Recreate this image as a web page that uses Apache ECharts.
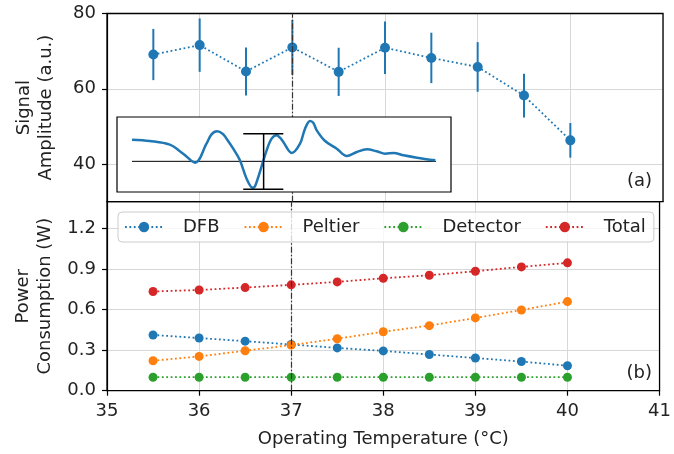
<!DOCTYPE html>
<html>
<head>
<meta charset="utf-8">
<script src="https://cdn.jsdelivr.net/npm/echarts@6/dist/echarts.min.js"></script>
<style>
  html, body { margin: 0; padding: 0; background: #fff; }
  #chart { width: 674px; height: 454px; }
</style>
</head>
<body>
<div id="chart"></div>
<script>
// temperatures (°C)
var temps = [35.5, 36, 36.5, 37, 37.5, 38, 38.5, 39, 39.5, 40];

// (a) signal amplitude and its error
var amp = [69.1, 71.6, 64.6, 71.0, 64.5, 70.9, 68.2, 65.8, 58.2, 46.3];
var ampErr = [6.8, 7.1, 6.4, 7.3, 6.4, 7.0, 6.7, 6.6, 5.8, 4.6];

// (b) power consumption (W)
var dfb = [0.413, 0.390, 0.367, 0.342, 0.317, 0.295, 0.268, 0.242, 0.216, 0.185];
var peltier = [0.222, 0.254, 0.296, 0.338, 0.385, 0.437, 0.482, 0.539, 0.598, 0.660];
var detector = [0.1, 0.1, 0.1, 0.1, 0.1, 0.1, 0.1, 0.1, 0.1, 0.1];
var total = [0.735, 0.746, 0.764, 0.784, 0.806, 0.833, 0.855, 0.885, 0.917, 0.947];

// tick labels
var xTicks = [35, 36, 37, 38, 39, 40, 41];
var ampTicks = [40, 60, 80];
var powTicks = [0, 0.3, 0.6, 0.9, 1.2];

// inset trace (arbitrary units)
var insetX = [4.5, 9.8, 15.8, 19.8, 23.4, 26.8, 28.3, 30.0, 31.6, 32.8, 34.8, 36.8, 38.8, 40.6, 41.3,
              42.3, 44.8, 46.3, 47.8, 48.8, 49.8, 52.3, 54.8, 56.3, 57.8, 58.8, 59.8, 62.3, 65.8,
              68.8, 71.8, 74.8, 77.8, 80.3, 82.8, 85.8, 89.8, 95.3];
var insetY = [6.5, 6.1, 5.0, 2.3, -0.4, 5.3, 8.1, 9.0, 8.3, 6.8, 3.8, 0.3, -5.2, -7.9, -7.5,
              -4.7, 3.3, 6.8, 7.8, 7.1, 5.8, 2.5, 5.3, 9.8, 12.1, 11.5, 9.3, 6.1, 3.8,
              1.6, 2.8, 3.6, 3.0, 2.3, 2.5, 1.8, 1.1, 0.3];
var insetBase = [[4.5, 0], [95.5, 0]];
var insetBar = [[43.9, -8.4, 8.3, 37.8, 49.8]];

var markTemp = 37;

var font = 'DejaVu Sans';
var txt = '#222';
var colors = ['#1f77b4', '#ff7f0e', '#2ca02c', '#d62728'];

function zip(xs, ys) {
    return xs.map(function (x, i) { return [x, ys[i]]; });
}

var dotted = [1.8, 2.6];
var vline = {
    silent: true,
    symbol: 'none',
    label: { show: false },
    lineStyle: { color: '#333', width: 1.2, type: [6, 2, 1.5, 2] },
    data: [{ xAxis: markTemp }]
};

function mainX(grid, showLabel) {
    return {
        type: 'value', gridIndex: grid, min: 35, max: 41, interval: 1,
        axisLine: { show: true, onZero: false, lineStyle: { color: '#000', width: 1.2 } },
        axisTick: { show: showLabel, length: 5, lineStyle: { color: '#000', width: 1.2 } },
        axisLabel: { show: showLabel, fontSize: 18, fontFamily: font, color: txt, margin: 12 },
        splitLine: { show: true, lineStyle: { color: '#d8d8d8', width: 1 } }
    };
}

function bottomLine(name, data, c) {
    return {
        name: name, type: 'line', xAxisIndex: 1, yAxisIndex: 1,
        data: zip(temps, data), symbol: 'circle', symbolSize: 9,
        itemStyle: { color: c },
        lineStyle: { color: c, width: 1.8, type: dotted },
        z: 3
    };
}

var chart = echarts.init(document.getElementById('chart'));

var dfbSeries = bottomLine('DFB', dfb, colors[0]);
dfbSeries.markLine = vline;

var option = {
    animation: false,
    grid: [
        { left: 107, width: 556, top: 13.5, height: 188.2, show: true, borderColor: '#000', borderWidth: 1.3, z: 1 },
        { left: 107, width: 556, top: 201.7, height: 189, show: true, borderColor: '#000', borderWidth: 1.3, z: 1 },
        { left: 117, width: 334, top: 117, height: 75, show: true, backgroundColor: '#fff',
          borderColor: '#000', borderWidth: 1.2, z: 10 }
    ],
    xAxis: [
        mainX(0, false),
        Object.assign(mainX(1, true), {
            name: 'Operating Temperature (°C)', nameLocation: 'middle', nameGap: 40,
            nameTextStyle: { fontSize: 18, fontFamily: font, color: txt },
            axisLabel: { show: true, fontSize: 18, fontFamily: font, color: txt, margin: 12,
                customValues: xTicks }
        }),
        { type: 'value', gridIndex: 2, min: 0, max: 100, show: false }
    ],
    yAxis: [
        {
            type: 'value', gridIndex: 0, min: 30, max: 80,
            name: 'Signal\nAmplitude (a.u.)', nameLocation: 'middle', nameGap: 50,
            nameTextStyle: { fontSize: 18, fontFamily: font, color: txt, lineHeight: 22 },
            axisLine: { show: true, lineStyle: { color: '#000', width: 1.2 } },
            axisTick: { show: true, length: 5, customValues: ampTicks, lineStyle: { color: '#000', width: 1.2 } },
            axisLabel: { fontSize: 18, fontFamily: font, color: txt, margin: 11, customValues: ampTicks },
            splitLine: { show: true, lineStyle: { color: '#d8d8d8', width: 1 } }
        },
        {
            type: 'value', gridIndex: 1, min: 0, max: 1.4,
            name: 'Power\nConsumption (W)', nameLocation: 'middle', nameGap: 50,
            nameTextStyle: { fontSize: 18, fontFamily: font, color: txt, lineHeight: 22 },
            axisLine: { show: true, lineStyle: { color: '#000', width: 1.2 } },
            axisTick: { show: true, length: 5, customValues: powTicks, lineStyle: { color: '#000', width: 1.2 } },
            axisLabel: { fontSize: 18, fontFamily: font, color: txt, margin: 11, customValues: powTicks,
                formatter: function (v) { return v.toFixed(1); } },
            splitLine: { show: true, lineStyle: { color: '#d8d8d8', width: 1 } }
        },
        { type: 'value', gridIndex: 2, min: -9.2, max: 13.3, show: false }
    ],
    legend: {
        data: ['DFB', 'Peltier', 'Detector', 'Total'],
        left: 118, top: 212,
        padding: [6, 8, 6, 6],
        itemGap: 24, itemWidth: 38, itemHeight: 13,
        backgroundColor: 'rgba(255,255,255,0.8)',
        borderColor: '#cccccc', borderWidth: 1, borderRadius: 4,
        textStyle: { fontSize: 18, fontFamily: font, color: txt, padding: [0, 0, 0, 15] },
        z: 6
    },
    graphic: [
        { type: 'text', right: 22, top: 172, style: { text: '(a)', font: '18px "DejaVu Sans"', fill: txt } },
        { type: 'text', right: 22, top: 364, style: { text: '(b)', font: '18px "DejaVu Sans"', fill: txt } }
    ],
    series: [
        {
            name: 'Signal', type: 'line', xAxisIndex: 0, yAxisIndex: 0,
            data: zip(temps, amp), symbol: 'circle', symbolSize: 10,
            itemStyle: { color: colors[0] },
            lineStyle: { color: colors[0], width: 1.8, type: dotted },
            markLine: vline, z: 3
        },
        {
            type: 'custom', xAxisIndex: 0, yAxisIndex: 0,
            data: temps.map(function (t, i) { return [t, amp[i] - ampErr[i], amp[i] + ampErr[i]]; }),
            encode: { x: 0, y: [1, 2] },
            itemStyle: { color: colors[0] },
            renderItem: function (params, api) {
                var a = api.coord([api.value(0), api.value(1)]);
                var b = api.coord([api.value(0), api.value(2)]);
                return { type: 'line', shape: { x1: a[0], y1: a[1], x2: b[0], y2: b[1] },
                    style: { stroke: colors[0], lineWidth: 2 } };
            },
            z: 2
        },
        dfbSeries,
        bottomLine('Peltier', peltier, colors[1]),
        bottomLine('Detector', detector, colors[2]),
        bottomLine('Total', total, colors[3]),
        {
            type: 'line', xAxisIndex: 2, yAxisIndex: 2, data: zip(insetX, insetY),
            showSymbol: false, smooth: 0.35,
            lineStyle: { color: colors[0], width: 2.5 }, z: 12
        },
        {
            type: 'line', xAxisIndex: 2, yAxisIndex: 2, data: insetBase,
            showSymbol: false, lineStyle: { color: '#000', width: 1 }, z: 11
        },
        {
            type: 'custom', xAxisIndex: 2, yAxisIndex: 2, data: insetBar,
            encode: { x: 0, y: [1, 2] },
            renderItem: function (params, api) {
                var lo = api.coord([api.value(0), api.value(1)]);
                var hi = api.coord([api.value(0), api.value(2)]);
                var l1 = api.coord([api.value(3), api.value(1)]);
                var r1 = api.coord([api.value(4), api.value(1)]);
                var l2 = api.coord([api.value(3), api.value(2)]);
                var r2 = api.coord([api.value(4), api.value(2)]);
                var st = { stroke: '#000', lineWidth: 1.5 };
                return { type: 'group', children: [
                    { type: 'line', shape: { x1: lo[0], y1: lo[1], x2: hi[0], y2: hi[1] }, style: st },
                    { type: 'line', shape: { x1: l1[0], y1: l1[1], x2: r1[0], y2: r1[1] }, style: st },
                    { type: 'line', shape: { x1: l2[0], y1: l2[1], x2: r2[0], y2: r2[1] }, style: st }
                ] };
            },
            z: 13
        }
    ]
};

chart.setOption(option);
</script>
</body>
</html>
